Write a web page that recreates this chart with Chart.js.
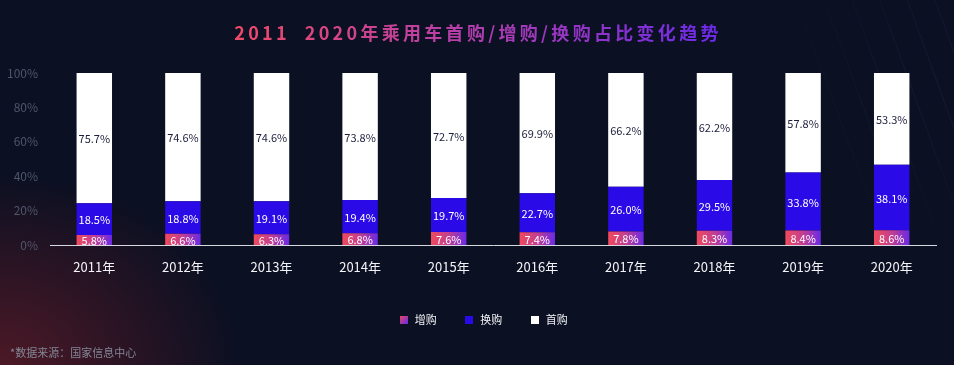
<!DOCTYPE html>
<html>
<head>
<meta charset="utf-8">
<script src="https://cdn.jsdelivr.net/npm/chart.js@4.4.0/dist/chart.umd.min.js"></script>
<style>
  html, body { margin: 0; padding: 0; }
  body {
    width: 954px; height: 365px; overflow: hidden;
    background:
      radial-gradient(ellipse 240px 190px at 0% 100%, rgba(105, 28, 40, 0.7), rgba(105, 28, 40, 0) 100%),
      #0b1022;
    position: relative;
  }
  #lines {
    position: absolute; right: 0; top: 0; width: 200px; height: 260px;
    background: repeating-linear-gradient(70deg, rgba(60, 70, 120, 0) 0px, rgba(60, 70, 120, 0) 24px, rgba(60, 70, 120, 0.22) 25px, rgba(60, 70, 120, 0) 26px);
    -webkit-mask-image: radial-gradient(ellipse at 100% 30%, #000 0%, rgba(0,0,0,0) 75%);
  }
  #wrap { position: absolute; left: 0; top: 0; width: 954px; height: 365px; }
</style>
</head>
<body>
<div id="lines"></div>
<div id="wrap"><canvas id="myChart" width="954" height="365"></canvas></div>
<script>
// chart data
const years = ['2011年', '2012年', '2013年', '2014年', '2015年', '2016年', '2017年', '2018年', '2019年', '2020年'];
const zengGou = [5.8, 6.6, 6.3, 6.8, 7.6, 7.4, 7.8, 8.3, 8.4, 8.6];        // 增购
const huanGou = [18.5, 18.8, 19.1, 19.4, 19.7, 22.7, 26.0, 29.5, 33.8, 38.1]; // 换购
const shouGou = [75.7, 74.6, 74.6, 73.8, 72.7, 69.9, 66.2, 62.2, 57.8, 53.3]; // 首购
const yTicks = [0, 20, 40, 60, 80, 100];

const titleText = '2011  2020年乘用车首购/增购/换购占比变化趋势';
const sourceText = '*数据来源：国家信息中心';
const FONT = '"Noto Sans CJK SC", "Noto Sans", sans-serif';

const BAR_PCT = 0.4;

// gradient for the 增购 bars, one per bar
function zengFill(c) {
  const chart = c.chart;
  if (c.type !== 'data' || !chart.chartArea) return '#b13c96';
  const xs = chart.scales.x;
  const x = xs.getPixelForValue(c.dataIndex);
  const w = xs.width / years.length * BAR_PCT;
  const g = chart.ctx.createLinearGradient(x - w / 2, 0, x + w / 2, 0);
  g.addColorStop(0, '#f04a5c');
  g.addColorStop(0.5, '#c23e92');
  g.addColorStop(1, '#6a2ae6');
  return g;
}

// little legend boxes
function box(fill) {
  const cv = document.createElement('canvas');
  cv.width = 8; cv.height = 8;
  const c = cv.getContext('2d');
  if (fill === 'grad') {
    const g = c.createLinearGradient(0, 0, 8, 8);
    g.addColorStop(0, '#f04a5c');
    g.addColorStop(1, '#6a2ae6');
    c.fillStyle = g;
  } else {
    c.fillStyle = fill;
  }
  c.fillRect(0, 0, 8, 8);
  return cv;
}
const legendBoxes = [box('grad'), box('#2a0ae6'), box('#ffffff')];

// value labels inside bars
const valueLabels = {
  id: 'valueLabels',
  afterDatasetsDraw(chart) {
    const ctx = chart.ctx;
    const colors = ['#ffffff', '#ffffff', '#1b1e3a'];
    ctx.save();
    ctx.font = '11px ' + FONT;
    ctx.textAlign = 'center';
    ctx.textBaseline = 'middle';
    chart.data.datasets.forEach((ds, di) => {
      const meta = chart.getDatasetMeta(di);
      meta.data.forEach((bar, i) => {
        ctx.fillStyle = colors[di];
        ctx.fillText(ds.data[i].toFixed(1) + '%', bar.x, (bar.y + bar.base) / 2 + 1);
      });
    });
    ctx.restore();
  }
};

// legend sits a little right of centre in the original
const legendShift = {
  id: 'legendShift',
  afterLayout(chart) {
    if (chart.legend) {
      chart.legend.left += 15;
      chart.legend.right += 15;
    }
  }
};

// title + source note
const texts = {
  id: 'texts',
  afterDraw(chart) {
    const ctx = chart.ctx;
    ctx.save();
    ctx.font = 'bold 18px ' + FONT;
    if ('letterSpacing' in ctx) ctx.letterSpacing = '3.3px';
    ctx.textBaseline = 'middle';
    ctx.textAlign = 'left';
    const w = ctx.measureText(titleText).width;
    const x0 = 478 - w / 2;
    const g = ctx.createLinearGradient(x0, 0, x0 + w, 0);
    g.addColorStop(0, '#ee4a68');
    g.addColorStop(0.45, '#b63fa8');
    g.addColorStop(1, '#6a2ae8');
    ctx.fillStyle = g;
    ctx.fillText(titleText, x0, 33);
    if ('letterSpacing' in ctx) ctx.letterSpacing = '0px';
    ctx.font = '11px ' + FONT;
    ctx.fillStyle = '#838695';
    ctx.fillText(sourceText, 10, 353);
    ctx.restore();
  }
};

const data = {
  labels: years,
  datasets: [
    { label: '增购', data: zengGou, backgroundColor: zengFill },
    { label: '换购', data: huanGou, backgroundColor: '#2a0ae6' },
    { label: '首购', data: shouGou, backgroundColor: '#ffffff' }
  ]
};

const config = {
  type: 'bar',
  data: data,
  options: {
    responsive: false,
    animation: false,
    layout: { padding: { left: 0, right: 18, top: 73, bottom: 30 } },
    datasets: { bar: { categoryPercentage: 1, barPercentage: BAR_PCT } },
    scales: {
      x: {
        stacked: true,
        grid: { display: false },
        border: { color: '#d8d8e0', width: 1 },
        ticks: { color: '#f4f4f8', font: { size: 13, family: FONT }, padding: 6 },
        afterFit: s => { s.height = 42; }
      },
      y: {
        stacked: true,
        min: 0, max: 100,
        grid: { display: false, drawTicks: false },
        border: { display: false },
        afterBuildTicks: s => { s.ticks = yTicks.map(v => ({ value: v })); },
        ticks: {
          color: '#50556a', font: { size: 12, family: FONT }, padding: 12,
          callback: v => v + '%'
        },
        afterFit: s => { s.width = 50; }
      }
    },
    plugins: {
      title: { display: false },
      tooltip: { enabled: false },
      legend: {
        position: 'bottom',
        labels: {
          color: '#f0f0f4',
          font: { size: 11, family: FONT },
          usePointStyle: true,
          boxHeight: 8,
          padding: 27,
          generateLabels: chart => chart.data.datasets.map((ds, i) => ({
            text: ds.label,
            pointStyle: legendBoxes[i],
            fontColor: '#f0f0f4',
            datasetIndex: i,
            hidden: false
          }))
        }
      }
    }
  },
  plugins: [valueLabels, legendShift, texts]
};

const myChart = new Chart(document.getElementById('myChart'), config);
</script>
</body>
</html>
